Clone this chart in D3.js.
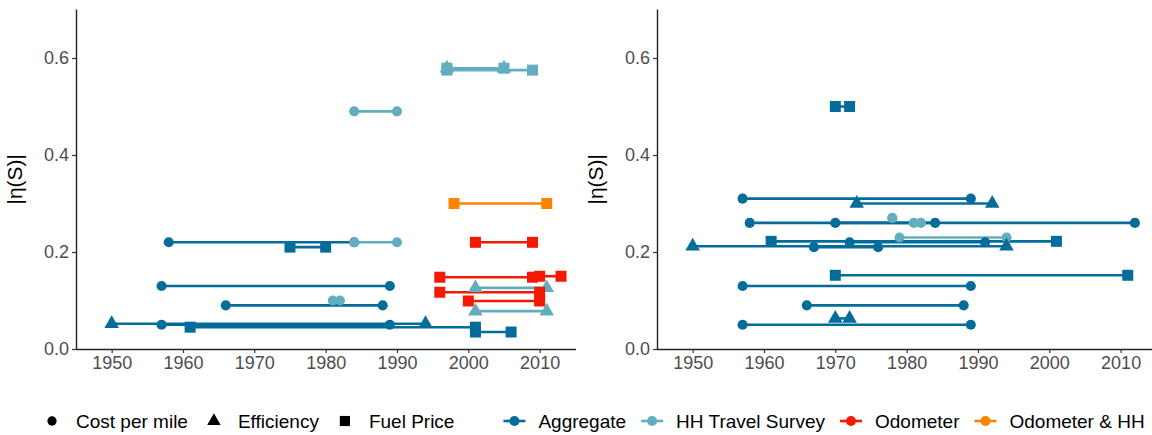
<!DOCTYPE html>
<html>
<head>
<meta http-equiv="Content-type" content="text/html; charset=utf-8">
<title>elasticity ranges</title>
<script src="https://cdn.jsdelivr.net/npm/d3@7"></script>
<style>
  body { margin: 0; background: #fff; }
  svg text { font-family: "Liberation Sans", Arial, sans-serif; }
</style>
</head>
<body>
<script type="text/javascript">

// ---- data ----
var xTicks = [1950, 1960, 1970, 1980, 1990, 2000, 2010];
var yTicks = [0, 0.2, 0.4, 0.6];

var measures = ["Cost per mile", "Efficiency", "Fuel Price"];
var sources = ["Aggregate", "HH Travel Survey", "Odometer", "Odometer & HH"];

// left panel: one entry per study
var leftStart   = [1958, 1984, 1975, 1957, 1966, 1981, 1950, 1957, 1961, 2001, 1984, 1997, 1997, 1997, 1998, 2001, 1996, 2010, 2001, 1996, 2000, 2001];
var leftEnd     = [1984, 1990, 1980, 1989, 1988, 1982, 1994, 1989, 2001, 2006, 1990, 2005, 2005, 2009, 2011, 2009, 2009, 2013, 2011, 2010, 2010, 2011];
var leftValue   = [0.22, 0.22, 0.21, 0.13, 0.09, 0.10, 0.052, 0.05, 0.045, 0.035, 0.49, 0.579, 0.579, 0.575, 0.30, 0.22, 0.148, 0.15, 0.126, 0.117, 0.099, 0.078];
var leftMeasure = ["Cost per mile", "Cost per mile", "Fuel Price", "Cost per mile", "Cost per mile", "Cost per mile", "Efficiency", "Cost per mile", "Fuel Price", "Fuel Price", "Cost per mile", "Efficiency", "Fuel Price", "Fuel Price", "Fuel Price", "Fuel Price", "Fuel Price", "Fuel Price", "Efficiency", "Fuel Price", "Fuel Price", "Efficiency"];
var leftSource  = ["Aggregate", "HH Travel Survey", "Aggregate", "Aggregate", "Aggregate", "HH Travel Survey", "Aggregate", "Aggregate", "Aggregate", "Aggregate", "HH Travel Survey", "HH Travel Survey", "HH Travel Survey", "HH Travel Survey", "Odometer & HH", "Odometer", "Odometer", "Odometer", "HH Travel Survey", "Odometer", "Odometer", "HH Travel Survey"];

// right panel
var rightStart   = [1970, 1957, 1973, 1958, 1970, 1978, 1981, 1979, 1961, 1972, 1950, 1967, 1970, 1957, 1966, 1970, 1957];
var rightEnd     = [1972, 1989, 1992, 1984, 2012, 1978, 1982, 1994, 2001, 1991, 1994, 1976, 2011, 1989, 1988, 1972, 1989];
var rightValue   = [0.50, 0.31, 0.30, 0.26, 0.26, 0.27, 0.26, 0.23, 0.222, 0.22, 0.212, 0.21, 0.152, 0.13, 0.09, 0.063, 0.05];
var rightMeasure = ["Fuel Price", "Cost per mile", "Efficiency", "Cost per mile", "Cost per mile", "Cost per mile", "Cost per mile", "Cost per mile", "Fuel Price", "Cost per mile", "Efficiency", "Cost per mile", "Fuel Price", "Cost per mile", "Cost per mile", "Efficiency", "Cost per mile"];
var rightSource  = ["Aggregate", "Aggregate", "Aggregate", "Aggregate", "Aggregate", "HH Travel Survey", "HH Travel Survey", "HH Travel Survey", "Aggregate", "Aggregate", "Aggregate", "Aggregate", "Aggregate", "Aggregate", "Aggregate", "Aggregate", "Aggregate"];

var colors = ["#046C9A", "#62AEC0", "#F21A00", "#FA8400"];
var shapes = [d3.symbolCircle, d3.symbolTriangle, d3.symbolSquare];
var shapeSize = [80, 92, 121];

var W = 1152, H = 435;
var color = d3.scaleOrdinal().domain(sources).range(colors);
var shapeOf = d3.scaleOrdinal().domain(measures).range(shapes);
var sizeOf = d3.scaleOrdinal().domain(measures).range(shapeSize);

var svg = d3.select("body").append("svg").attr("width", W).attr("height", H);

function rows(s, e, v, m, src) {
  return s.map(function(d, i) { return {start: d, end: e[i], value: v[i], measure: m[i], source: src[i]}; });
}

function drawPanel(data, left, right, xDomain) {
  var x = d3.scaleLinear().domain(xDomain).range([left, right]);
  var y = d3.scaleLinear().domain([0, 0.7]).range([349, 9.5]);
  var g = svg.append("g");

  // y axis
  var ya = g.append("g").attr("transform", "translate(" + left + ",0)")
    .call(d3.axisLeft(y).tickValues(yTicks).tickFormat(d3.format(".1f")).tickSize(4).tickPadding(3));
  // x axis
  var xa = g.append("g").attr("transform", "translate(0,349)")
    .call(d3.axisBottom(x).tickValues(xTicks).tickFormat(d3.format("d")).tickSize(4).tickPadding(3));
  [ya, xa].forEach(function(a) {
    a.select(".domain").attr("stroke", "#222").attr("stroke-width", 1.4);
    a.selectAll(".tick line").attr("stroke", "#333").attr("stroke-width", 1.2);
    a.selectAll(".tick text").attr("fill", "#4D4D4D").style("font-size", "18px");
  });
  ya.select(".domain").attr("d", "M0.5," + y(0) + "V" + y.range()[1]);
  xa.select(".domain").attr("d", "M" + left + ",0.5H" + right);

  g.append("text")
    .attr("transform", "translate(" + (left - 54) + "," + y(0.35) + ") rotate(-90)")
    .attr("text-anchor", "middle")
    .style("font-size", "21px")
    .attr("fill", "#000")
    .text("|\u03B7(S)|");

  g.selectAll(".seg").data(data).enter().append("line")
    .attr("x1", function(d) { return x(d.start); })
    .attr("x2", function(d) { return x(d.end); })
    .attr("y1", function(d) { return y(d.value); })
    .attr("y2", function(d) { return y(d.value); })
    .attr("stroke", function(d) { return color(d.source); })
    .attr("stroke-width", 2.6);

  var pts = [];
  data.forEach(function(d) {
    pts.push({yr: d.start, value: d.value, measure: d.measure, source: d.source});
    pts.push({yr: d.end, value: d.value, measure: d.measure, source: d.source});
  });
  g.selectAll(".pt").data(pts).enter().append("path")
    .attr("d", function(d) { return d3.symbol().type(shapeOf(d.measure)).size(sizeOf(d.measure))(); })
    .attr("transform", function(d) { return "translate(" + x(d.yr) + "," + y(d.value) + ")"; })
    .attr("fill", function(d) { return color(d.source); });
}

drawPanel(rows(leftStart, leftEnd, leftValue, leftMeasure, leftSource), 76, 576, [1945, 2015.1]);
drawPanel(rows(rightStart, rightEnd, rightValue, rightMeasure, rightSource), 657, 1152, [1945, 2014.4]);

// ---- legend ----
var leg = svg.append("g");
var ly = 421;
var cursor = 52;   // centre of first key
var items = [];
measures.forEach(function(m) { items.push({kind: "shape", label: m}); });
items.push({kind: "gap"});
sources.forEach(function(s) { items.push({kind: "color", label: s}); });

items.forEach(function(it) {
  if (it.kind == "gap") { cursor += 34; return; }
  var keyX = cursor;
  if (it.kind == "shape") {
    leg.append("path")
      .attr("d", d3.symbol().type(shapeOf(it.label)).size(sizeOf(it.label) * 0.85)())
      .attr("transform", "translate(" + keyX + "," + ly + ")")
      .attr("fill", "#000");
  } else {
    leg.append("line").attr("x1", keyX - 11).attr("x2", keyX + 11).attr("y1", ly).attr("y2", ly)
      .attr("stroke", color(it.label)).attr("stroke-width", 2.6);
    leg.append("path")
      .attr("d", d3.symbol().type(d3.symbolCircle).size(80)())
      .attr("transform", "translate(" + keyX + "," + ly + ")")
      .attr("fill", color(it.label));
  }
  var t = leg.append("text").attr("x", keyX + 24).attr("y", ly).attr("dy", "0.35em")
    .style("font-size", "19px").attr("fill", "#000").text(it.label);
  cursor = keyX + 24 + t.node().getComputedTextLength() + 26;
});

</script>
</body>
</html>
